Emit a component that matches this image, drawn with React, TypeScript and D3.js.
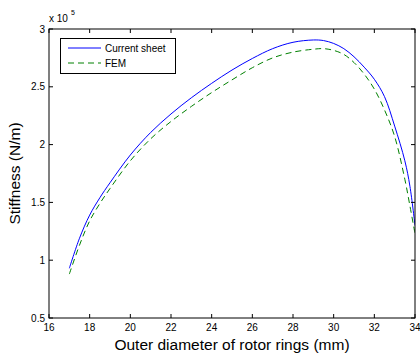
import React from "react";
import * as d3 from "d3";

const diameters = [17, 17.5, 18, 18.5, 19, 20, 21, 22, 23, 24, 25, 26, 27, 28, 29, 29.5, 30, 30.5, 31, 31.5, 32, 32.5, 33, 33.5, 33.75, 34];
const currentSheet = [0.93, 1.19, 1.39, 1.54, 1.67, 1.91, 2.105, 2.265, 2.405, 2.53, 2.645, 2.745, 2.83, 2.885, 2.905, 2.90, 2.875, 2.83, 2.76, 2.67, 2.565, 2.415, 2.16, 1.86, 1.64, 1.30];
const fem = [0.88, 1.13, 1.34, 1.49, 1.62, 1.86, 2.05, 2.20, 2.33, 2.45, 2.56, 2.665, 2.75, 2.80, 2.825, 2.83, 2.815, 2.78, 2.71, 2.61, 2.48, 2.30, 2.07, 1.70, 1.47, 1.23];
const xTicks = [16, 18, 20, 22, 24, 26, 28, 30, 32, 34];
const yTicks = [0.5, 1, 1.5, 2, 2.5, 3];
const seriesNames = ["Current sheet", "FEM"];

export default function App() {
  const W = 420, H = 356;
  const left = 49, right = 415, top = 29, bottom = 318;
  const x = d3.scaleLinear().domain([16, 34]).range([left, right]);
  const y = d3.scaleLinear().domain([0.5, 3]).range([bottom, top]);
  const line = d3.line<[number, number]>().x(d => x(d[0])).y(d => y(d[1])).curve(d3.curveCatmullRom.alpha(0.5));
  const blue = line(diameters.map((d, i) => [d, currentSheet[i]]) as [number, number][]) || "";
  const green = line(diameters.map((d, i) => [d, fem[i]]) as [number, number][]) || "";
  const font = "Arial, 'Liberation Sans', sans-serif";
  const tl = 4;
  return (
    <svg width={W} height={H} style={{ position: "absolute", left: 0, top: 0, background: "#fff" }} fontFamily={font}>
      <rect x={0} y={0} width={W} height={H} fill="#fff" />
      <defs>
        <clipPath id="plot"><rect x={left} y={top} width={right - left} height={bottom - top} /></clipPath>
      </defs>
      <g clipPath="url(#plot)">
        <path d={blue} fill="none" stroke="#0000ff" strokeWidth={1} />
        <path d={green} fill="none" stroke="#008000" strokeWidth={1} strokeDasharray="6,4" />
      </g>
      <rect x={left} y={top} width={right - left} height={bottom - top} fill="none" stroke="#000" strokeWidth={1} />
      {xTicks.map(t => (
        <g key={"x" + t}>
          <line x1={x(t)} x2={x(t)} y1={bottom} y2={bottom - tl} stroke="#000" />
          <line x1={x(t)} x2={x(t)} y1={top} y2={top + tl} stroke="#000" />
          <text x={x(t)} y={331} fontSize={10} textAnchor="middle">{t}</text>
        </g>
      ))}
      {yTicks.map(t => (
        <g key={"y" + t}>
          <line x1={left} x2={left + tl} y1={y(t)} y2={y(t)} stroke="#000" />
          <line x1={right} x2={right - tl} y1={y(t)} y2={y(t)} stroke="#000" />
          <text x={45} y={y(t) + 3.5} fontSize={10} textAnchor="end">{t}</text>
        </g>
      ))}
      <text x={49} y={21.5} fontSize={10}>x 10</text>
      <text x={71} y={15} fontSize={7}>5</text>
      <text x={(left + right) / 2} y={350} fontSize={15.5} textAnchor="middle">Outer diameter of rotor rings (mm)</text>
      <text transform={`translate(20,${(top + bottom) / 2}) rotate(-90)`} fontSize={15.5} textAnchor="middle">Stiffness (N/m)</text>
      <g>
        <rect x={60.5} y={38.5} width={115} height={35} fill="#fff" stroke="#000" strokeWidth={1} />
        <line x1={68} x2={101} y1={48} y2={48} stroke="#0000ff" />
        <line x1={68} x2={101} y1={63} y2={63} stroke="#008000" strokeDasharray="6,4" />
        <text x={105} y={51.5} fontSize={10}>{seriesNames[0]}</text>
        <text x={105} y={66.5} fontSize={10}>{seriesNames[1]}</text>
      </g>
    </svg>
  );
}
